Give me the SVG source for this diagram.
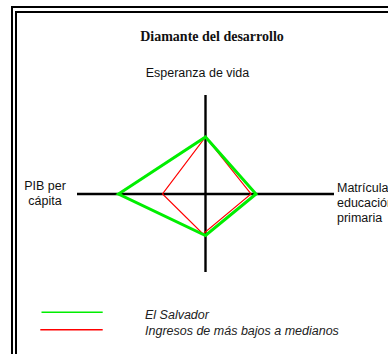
<svg xmlns="http://www.w3.org/2000/svg" width="388" height="354" viewBox="0 0 388 354">
<style>
.frame{fill:none;stroke:#000;stroke-width:2}
.axis{stroke:#000;stroke-width:2.4;fill:none}
.lbl{font-family:"Liberation Sans",Arial,sans-serif;font-size:12.5px;fill:#111}
.title{font-family:"Liberation Serif","Times New Roman",serif;font-size:14px;font-weight:bold;fill:#111}
.leg{font-family:"Liberation Sans",Arial,sans-serif;font-size:12.5px;font-style:italic;fill:#222}
.green{fill:none;stroke:#00ee00;stroke-width:3;stroke-linejoin:miter}
.red{fill:none;stroke:#ff0000;stroke-width:1.2}
</style>
<rect width="388" height="354" fill="#fff"/>
<g id="frame">
<polyline class="frame" points="12,356 12,7 390,7"/>
<polyline class="frame" points="16,356 16,12 390,12"/>
</g>
<g id="title"><text class="title" x="212" y="40.5" text-anchor="middle">Diamante del desarrollo</text></g>
<g id="connectors">
<line class="axis" x1="205.5" y1="95" x2="205.5" y2="272"/>
<line class="axis" x1="77" y1="194" x2="334" y2="194"/>
</g>
<g id="series-red"><polygon class="red" points="205.5,137 251,194 203,234 162.5,194"/></g>
<g id="series-green"><polygon class="green" points="205.5,137 256,194 205.5,235.5 118.5,194"/></g>
<g id="label-top"><text class="lbl" x="197.5" y="76.5" text-anchor="middle">Esperanza de vida</text></g>
<g id="label-left"><text class="lbl" x="45" y="190" text-anchor="middle">PIB per</text><text class="lbl" x="45" y="205" text-anchor="middle">cápita</text></g>
<g id="label-right"><text class="lbl" x="337" y="192">Matrícula</text><text class="lbl" x="337" y="207">educación</text><text class="lbl" x="337" y="222">primaria</text></g>
<g id="legend">
<line x1="41.5" y1="312.3" x2="102.7" y2="312.3" stroke="#00ee00" stroke-width="1.5"/>
<line x1="40.3" y1="329.7" x2="102.7" y2="329.7" stroke="#ff0000" stroke-width="1.5"/>
<text class="leg" x="145" y="319">El Salvador</text>
<text class="leg" x="145" y="335">Ingresos de más bajos a medianos</text>
</g>
</svg>
